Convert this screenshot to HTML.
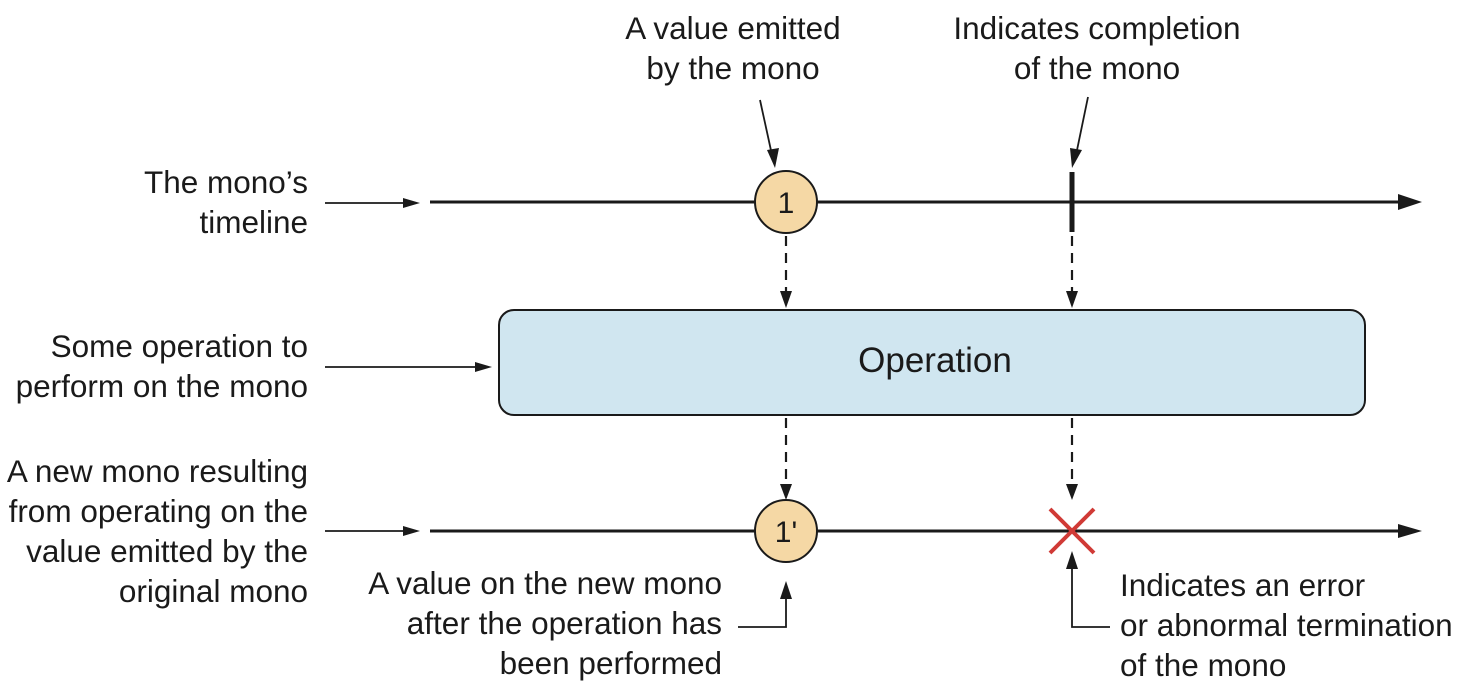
<!DOCTYPE html>
<html><head><meta charset="utf-8"><style>
html,body{margin:0;padding:0;background:#fff;}
svg{display:block;}
text{font-family:"Liberation Sans",Arial,sans-serif;font-size:31.5px;fill:#1a1a1a;}
</style></head><body>
<svg width="1462" height="700" viewBox="0 0 1462 700" xmlns="http://www.w3.org/2000/svg">
<g stroke="#1a1a1a" fill="none">
<line x1="430" y1="202" x2="1400" y2="202" stroke-width="3"/>
<line x1="430" y1="531" x2="1400" y2="531" stroke-width="3"/>
<line x1="325" y1="203" x2="405" y2="203" stroke-width="1.8"/>
<line x1="325" y1="367" x2="478" y2="367" stroke-width="1.8"/>
<line x1="325" y1="531" x2="405" y2="531" stroke-width="1.8"/>
<line x1="760" y1="100" x2="772" y2="155" stroke-width="1.8"/>
<line x1="1088" y1="97" x2="1076" y2="155" stroke-width="1.8"/>
<line x1="1072" y1="172" x2="1072" y2="232" stroke-width="5"/>
<g stroke-dasharray="10,7" stroke-width="2.2">
<line x1="786" y1="236" x2="786" y2="292"/>
<line x1="1072" y1="236" x2="1072" y2="292"/>
<line x1="786" y1="418" x2="786" y2="486"/>
<line x1="1072" y1="418" x2="1072" y2="486"/>
</g>
<polyline points="738,627 786,627 786,598" stroke-width="1.8"/>
<polyline points="1110,627 1072,627 1072,568" stroke-width="1.8"/>
</g>
<g fill="#1a1a1a">
<polygon points="1422,202 1398,194 1398,210"/>
<polygon points="1422,531 1398,524 1398,538"/>
<polygon points="420,203 403,198 403,208"/>
<polygon points="492,367 475,362 475,372"/>
<polygon points="420,531 403,526 403,536"/>
<polygon points="775,168 767,150 779,148"/>
<polygon points="1072,168 1070,148 1082,150"/>
<polygon points="786,308 780,291 792,291"/>
<polygon points="1072,308 1066,291 1078,291"/>
<polygon points="786,500 780,484 792,484"/>
<polygon points="1072,500 1066,484 1078,484"/>
<polygon points="786,581 780,599 792,599"/>
<polygon points="1072,551 1066,569 1078,569"/>
</g>
<rect x="499" y="310" width="866" height="105" rx="15" fill="#d0e6f0" stroke="#1a1a1a" stroke-width="2"/>
<text x="935" y="372" text-anchor="middle" style="font-size:35px">Operation</text>
<circle cx="786" cy="202" r="31" fill="#f5d8a5" stroke="#1a1a1a" stroke-width="2"/>
<text x="786" y="213" text-anchor="middle" style="font-size:30px">1</text>
<circle cx="786" cy="531" r="31" fill="#f5d8a5" stroke="#1a1a1a" stroke-width="2"/>
<text x="786" y="542" text-anchor="middle" style="font-size:30px">1'</text>
<g stroke="#d03a36" stroke-width="4">
<line x1="1050" y1="509" x2="1094" y2="553"/>
<line x1="1094" y1="509" x2="1050" y2="553"/>
</g>
<g text-anchor="end">
<text x="308" y="193">The mono’s</text>
<text x="308" y="233">timeline</text>
<text x="308" y="357">Some operation to</text>
<text x="308" y="397">perform on the mono</text>
<text x="308" y="482">A new mono resulting</text>
<text x="308" y="522">from operating on the</text>
<text x="308" y="562">value emitted by the</text>
<text x="308" y="602">original mono</text>
<text x="722" y="594">A value on the new mono</text>
<text x="722" y="634">after the operation has</text>
<text x="722" y="674">been performed</text>
</g>
<g text-anchor="middle">
<text x="733" y="39">A value emitted</text>
<text x="733" y="79">by the mono</text>
<text x="1097" y="39">Indicates completion</text>
<text x="1097" y="79">of the mono</text>
</g>
<text x="1120" y="596">Indicates an error</text>
<text x="1120" y="636">or abnormal termination</text>
<text x="1120" y="676">of the mono</text>
</svg>
</body></html>
